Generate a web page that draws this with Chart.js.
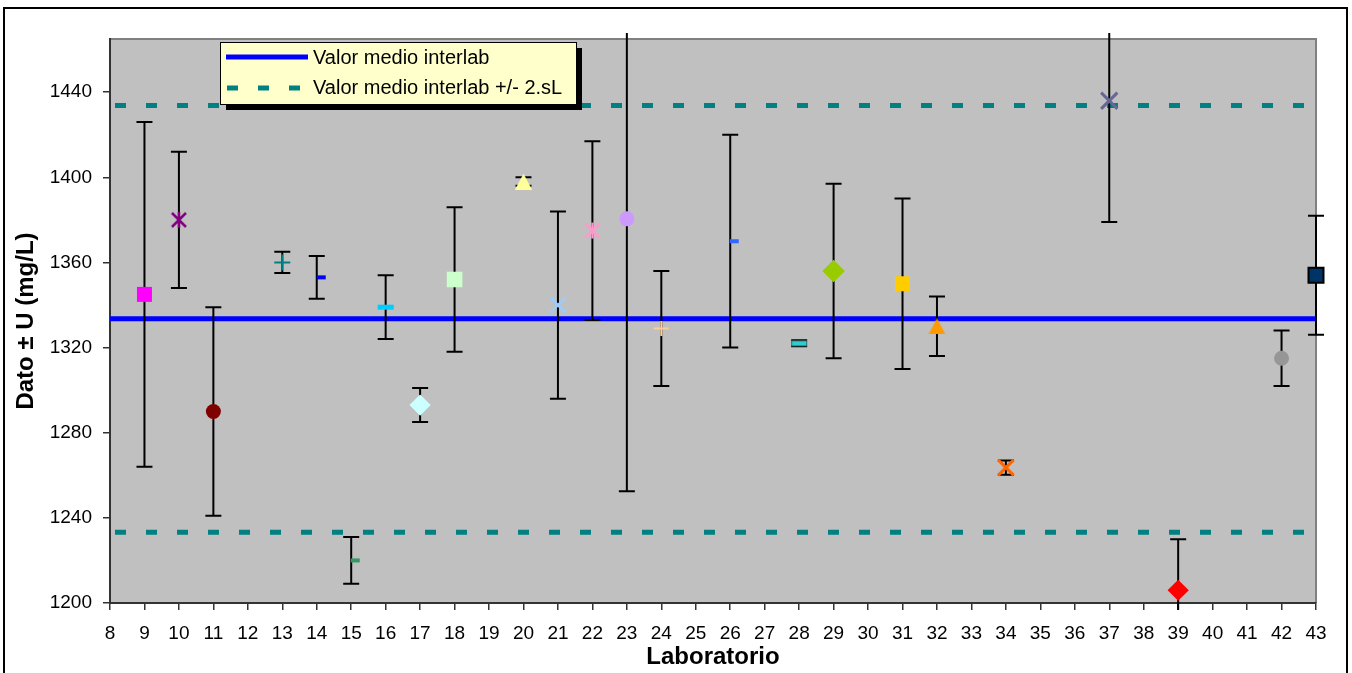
<!DOCTYPE html>
<html>
<head>
<meta charset="utf-8">
<script src="https://cdn.jsdelivr.net/npm/chart.js@4.4.1/dist/chart.umd.min.js"></script>
<style>
  html, body { margin: 0; padding: 0; background: #fff; }
</style>
</head>
<body>
<canvas id="chart" width="1352" height="673"></canvas>
<script>
// Resultados por laboratorio: dato ± U (mg/L)
const labs   = [9, 10, 11, 13, 14, 15, 16, 17, 18, 20, 21, 22, 23, 24, 26, 28, 29, 31, 32, 34, 37, 39, 42, 43];
const datos  = [1345, 1380, 1290, 1360, 1353, 1220, 1339, 1293, 1352, 1398, 1340, 1375, 1380.5, 1329, 1370, 1322, 1356, 1350, 1330, 1263.6, 1436, 1206, 1315, 1354];
const incert = [81, 32, 49, 5, 10, 11, 15, 8, 34, 2, 44, 42, 128, 27, 50, 1.4, 41, 40, 14, 3.3, 57, 24, 13, 28];

// Valor medio interlab y límites +/- 2.sL
const valorMedio = 1333.5;
const limiteSup  = 1433.7;
const limiteInf  = 1233.3;

// Ejes
const rangoX = [8, 43];
const rangoY = [1200, 1465];
const ticksY = [1200, 1240, 1280, 1320, 1360, 1400, 1440];

const FUENTE = '"Liberation Sans", Arial, sans-serif';
Chart.defaults.font.family = FUENTE;
Chart.defaults.color = '#000';

// --- marcadores estilo Excel ---
function lienzo(w, h, dibujo) {
    const c = document.createElement('canvas');
    c.width = w; c.height = h;
    dibujo(c.getContext('2d'));
    return c;
}
function asterisco(color) {
    return lienzo(18, 18, g => {
        g.strokeStyle = color; g.lineWidth = 2.5;
        g.beginPath();
        g.moveTo(2, 2); g.lineTo(16, 16);
        g.moveTo(16, 2); g.lineTo(2, 16);
        g.moveTo(9, 1); g.lineTo(9, 17);
        g.stroke();
    });
}
function guion(color, w, h, desp, borde) {
    const cw = 2 * (w / 2 + desp) + 2;
    return lienzo(cw, h + 2, g => {
        const x0 = cw / 2 + desp - w / 2;
        g.fillStyle = color;
        g.fillRect(x0, 1, w, h);
        if (borde) { g.strokeStyle = borde; g.lineWidth = 1; g.strokeRect(x0 + 0.5, 1.5, w - 1, h - 1); }
    });
}
function triangulo(color) {
    return lienzo(17, 16, g => {
        g.fillStyle = color;
        g.beginPath(); g.moveTo(8.5, 0); g.lineTo(17, 16); g.lineTo(0, 16); g.closePath(); g.fill();
    });
}

// estilo de cada laboratorio (mismo orden que labs)
const marcadores = [
    { estilo: 'rect', r: 10.6, color: '#FF00FF' },
    { estilo: asterisco('#800080') },
    { estilo: 'circle', r: 7.5, color: '#800000' },
    { estilo: 'cross', r: 8, color: '#008080', bw: 2 },
    { estilo: guion('#0000FF', 9, 4, 4.5) },
    { estilo: guion('#339966', 9, 4, 4) },
    { estilo: guion('#00CCFF', 16, 5, 0) },
    { estilo: 'rectRot', r: 10.6, color: '#CCFFFF' },
    { estilo: 'rect', r: 11, color: '#CCFFCC' },
    { estilo: triangulo('#FFFF99') },
    { estilo: 'crossRot', r: 11, color: '#99CCFF', bw: 2.5 },
    { estilo: asterisco('#FF99CC') },
    { estilo: 'circle', r: 7.5, color: '#CC99FF' },
    { estilo: 'cross', r: 7.5, color: '#FFCC99', bw: 2 },
    { estilo: guion('#3366FF', 9, 4, 4) },
    { estilo: guion('#33CCCC', 16, 6, 0, '#2F6F6F') },
    { estilo: 'rectRot', r: 11.3, color: '#99CC00' },
    { estilo: 'rect', r: 10.6, color: '#FFCC00' },
    { estilo: triangulo('#FF9900') },
    { estilo: 'crossRot', r: 11, color: '#FF6600', bw: 3 },
    { estilo: 'crossRot', r: 11.5, color: '#666699', bw: 3 },
    { estilo: 'rectRot', r: 10.6, color: '#FF0000' },
    { estilo: 'circle', r: 7.5, color: '#969696' },
    { estilo: 'rect', r: 10.6, color: '#003366', borde: '#000', bw: 2 }
];

const puntos = labs.map((lab, i) => {
    const m = marcadores[i];
    const img = typeof m.estilo !== 'string';
    const lineal = m.estilo === 'cross' || m.estilo === 'crossRot';
    return {
        type: 'scatter',
        data: [{ x: lab, y: datos[i] }],
        pointStyle: m.estilo,
        pointRadius: img ? 8 : m.r,
        backgroundColor: m.color || '#000',
        borderColor: m.borde || m.color || '#000',
        borderWidth: lineal ? m.bw : (m.borde ? m.bw : 0),
        clip: false,
        order: 0
    };
});

function lineaRef(valor, color, dash) {
    return {
        type: 'line',
        data: [{ x: rangoX[0], y: valor }, { x: rangoX[1], y: valor }],
        borderColor: color,
        borderWidth: 5,
        borderDash: dash || [],
        borderDashOffset: dash ? 26 : 0,
        pointRadius: 0,
        esReferencia: true,
        order: 1
    };
}

const referencias = [
    lineaRef(valorMedio, '#0000FF'),
    lineaRef(limiteSup, '#008080', [11, 20]),
    lineaRef(limiteInf, '#008080', [11, 20])
];

// fondo gris del área de trazado y marco exterior
const fondo = {
    id: 'fondo',
    beforeDraw(chart) {
        const { ctx, chartArea: a } = chart;
        ctx.save();
        ctx.fillStyle = '#fff';
        ctx.fillRect(0, 0, chart.width, chart.height);
        ctx.strokeStyle = '#000';
        ctx.lineWidth = 2;
        ctx.strokeRect(4, 8, chart.width - 9, chart.height + 20);
        ctx.fillStyle = '#C0C0C0';
        ctx.fillRect(a.left, a.top, a.right - a.left, a.bottom - a.top);
        ctx.strokeStyle = '#808080';
        ctx.lineWidth = 2;
        ctx.beginPath();
        ctx.moveTo(a.left, a.top);
        ctx.lineTo(a.right, a.top);
        ctx.lineTo(a.right, a.bottom);
        ctx.stroke();
        ctx.restore();
    }
};

// barras de error (dato ± U), encima de las líneas de referencia y debajo de los marcadores
let barrasHechas = false;
function dibujarBarras(chart) {
    const { ctx, chartArea: a, scales: { x, y } } = chart;
    ctx.save();
    ctx.beginPath();
    ctx.rect(a.left - 12, a.top - 6, a.right - a.left + 24, a.bottom - a.top + 13);
    ctx.clip();
    ctx.strokeStyle = '#000';
    ctx.lineWidth = 2;
    labs.forEach((lab, i) => {
        const px = x.getPixelForValue(lab);
        const yA = y.getPixelForValue(datos[i] + incert[i]);
        const yB = y.getPixelForValue(datos[i] - incert[i]);
        ctx.beginPath();
        ctx.moveTo(px, yA); ctx.lineTo(px, yB);
        ctx.moveTo(px - 8, yA); ctx.lineTo(px + 8, yA);
        ctx.moveTo(px - 8, yB); ctx.lineTo(px + 8, yB);
        ctx.stroke();
    });
    ctx.restore();
}
const barrasError = {
    id: 'barrasError',
    beforeDatasetsDraw() { barrasHechas = false; },
    beforeDatasetDraw(chart, args) {
        if (barrasHechas || chart.data.datasets[args.index].esReferencia) return;
        barrasHechas = true;
        dibujarBarras(chart);
    }
};

// leyenda dentro del área de trazado
const leyenda = {
    id: 'leyenda',
    afterDraw(chart) {
        const { ctx, chartArea: a } = chart;
        const x0 = a.left + 110, y0 = a.top + 3, w = 356, h = 62;
        ctx.save();
        ctx.fillStyle = '#000';
        ctx.fillRect(x0 + 6, y0 + 6, w, h);
        ctx.fillStyle = '#FFFFCC';
        ctx.fillRect(x0, y0, w, h);
        ctx.strokeStyle = '#000';
        ctx.lineWidth = 1;
        ctx.strokeRect(x0 + 0.5, y0 + 0.5, w, h);

        ctx.lineWidth = 5;
        ctx.strokeStyle = '#0000FF';
        ctx.beginPath(); ctx.moveTo(x0 + 6, y0 + 15); ctx.lineTo(x0 + 88, y0 + 15); ctx.stroke();
        ctx.strokeStyle = '#008080';
        ctx.setLineDash([11, 20]);
        ctx.beginPath(); ctx.moveTo(x0 + 7, y0 + 46); ctx.lineTo(x0 + 88, y0 + 46); ctx.stroke();
        ctx.setLineDash([]);

        ctx.fillStyle = '#000';
        ctx.font = '20px ' + FUENTE;
        ctx.textBaseline = 'middle';
        ctx.fillText('Valor medio interlab', x0 + 93, y0 + 16);
        ctx.fillText('Valor medio interlab +/- 2.sL', x0 + 93, y0 + 46);
        ctx.restore();
    }
};

new Chart(document.getElementById('chart'), {
    data: { datasets: [...puntos, ...referencias] },
    options: {
        responsive: false,
        animation: false,
        events: [],
        layout: { padding: { left: 10, right: 36, top: 39, bottom: 0 } },
        plugins: { legend: { display: false }, tooltip: { enabled: false } },
        scales: {
            x: {
                type: 'linear',
                min: rangoX[0],
                max: rangoX[1],
                ticks: { stepSize: 1, autoSkip: false, maxRotation: 0, padding: 12, font: { size: 19 }, color: '#000', callback: v => String(v) },
                grid: { drawOnChartArea: false, tickLength: 7, color: '#333', lineWidth: 1.5 },
                border: { color: '#333', width: 2 },
                title: { display: true, text: 'Laboratorio', font: { size: 24, weight: 'bold' }, color: '#000', padding: { top: 0, bottom: 1 } },
                afterFit(s) { s.height = 70; }
            },
            y: {
                type: 'linear',
                min: rangoY[0],
                max: rangoY[1],
                afterBuildTicks(s) { s.ticks = ticksY.map(v => ({ value: v })); },
                ticks: { padding: 11, font: { size: 19 }, color: '#000', callback: v => String(v) },
                grid: { drawOnChartArea: false, tickLength: 7, color: '#333', lineWidth: 1.5 },
                border: { color: '#333', width: 2 },
                title: { display: true, text: 'Dato ± U (mg/L)', font: { size: 24, weight: 'bold' }, color: '#000', padding: { top: 2, bottom: 4 } },
                afterFit(s) { s.width = 100; }
            }
        }
    },
    plugins: [fondo, barrasError, leyenda]
});
</script>
</body>
</html>
